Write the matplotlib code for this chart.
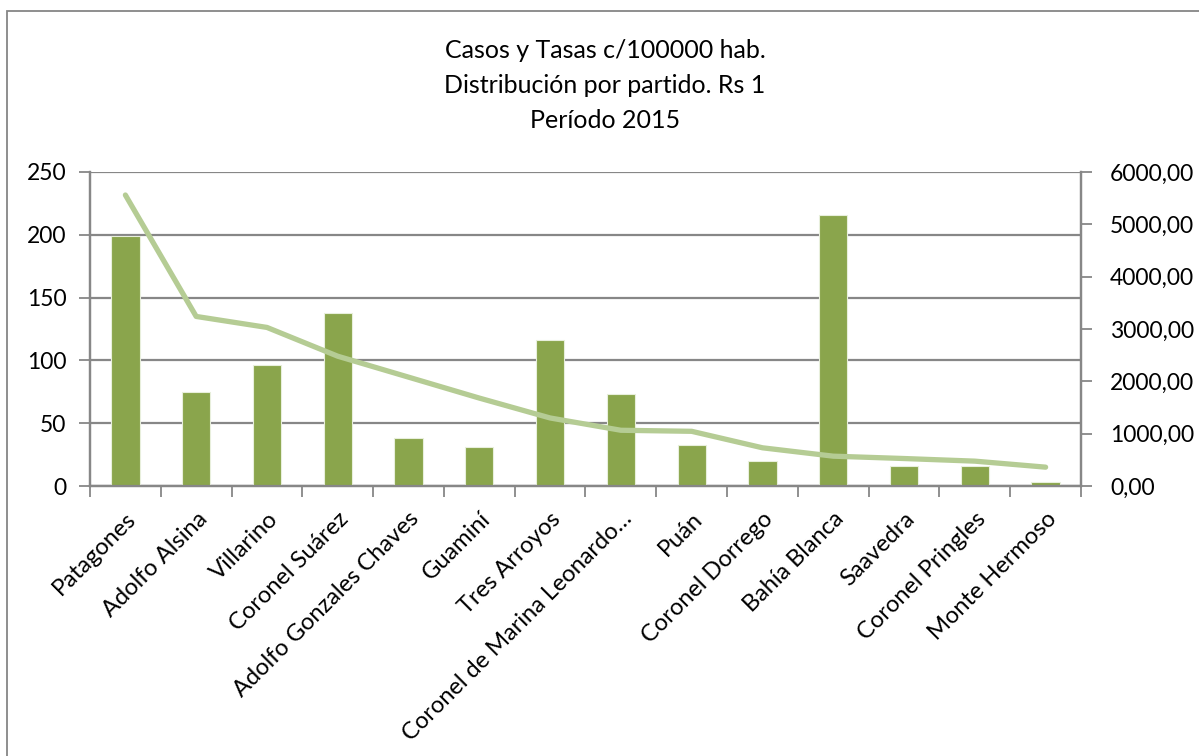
import matplotlib
matplotlib.use("Agg")
import matplotlib.pyplot as plt
from matplotlib.patches import Rectangle
from matplotlib.ticker import FuncFormatter, MultipleLocator, FixedLocator
import numpy as np

categories = ["Patagones", "Adolfo Alsina", "Villarino", "Coronel Suárez",
              "Adolfo Gonzales Chaves", "Guaminí", "Tres Arroyos",
              "Coronel de Marina Leonardo…", "Puán", "Coronel Dorrego",
              "Bahía Blanca", "Saavedra", "Coronel Pringles", "Monte Hermoso"]
casos = [199, 75, 96, 138, 38, 31, 116, 73, 33, 20, 216, 16, 16, 3]
tasas = [5560, 3240, 3030, 2480, 2080, 1680, 1300, 1065, 1045, 730, 570, 525, 475, 360]
title_lines = ["Casos y Tasas c/100000 hab.", "Distribución por partido. Rs 1", "Período 2015"]

plt.rcParams['font.family'] = ['Lato', 'DejaVu Sans']
W, H = 1199, 756
fig = plt.figure(figsize=(W/100, H/100), dpi=100)
fig.patch.set_facecolor('white')

# outer chart border
fig.patches.append(Rectangle((7/W, -0.01), (1199 - 7)/W + 0.01, (H - 11)/H + 0.01,
                             transform=fig.transFigure, fill=False,
                             edgecolor='#868686', linewidth=1.3))

left, right, top, bottom = 90, 1081, 172, 486
ax = fig.add_axes([left/W, 1 - bottom/H, (right-left)/W, (bottom-top)/H])
ax2 = ax.twinx()

grid_c = '#878787'
x = np.arange(len(categories))
ax.bar(x, casos, width=0.4, color='#8AA54C', edgecolor='#E8EFDC', linewidth=0.8, zorder=3)
ax.set_xlim(-0.5, len(categories) - 0.5)
ax.set_ylim(0, 250)
ax.yaxis.set_major_locator(MultipleLocator(50))
ax.grid(axis='y', color=grid_c, linewidth=1.6, zorder=0)
ax.set_axisbelow(True)

ax2.plot(x, tasas, color='#B5CC94', linewidth=3.8, solid_capstyle='round',
         solid_joinstyle='round', zorder=4)
ax2.set_ylim(0, 6000)
ax2.yaxis.set_major_locator(MultipleLocator(1000))
ax2.yaxis.set_major_formatter(FuncFormatter(lambda v, p: f"{v:.2f}".replace('.', ',')))

for a in (ax, ax2):
    a.spines['top'].set_visible(False)
    for s in ('left', 'right', 'bottom'):
        a.spines[s].set_color(grid_c)
        a.spines[s].set_linewidth(1.6)

ax.tick_params(axis='y', direction='out', length=8, width=1.3, color=grid_c,
               labelsize=16.5, pad=9)
ax2.tick_params(axis='y', direction='out', length=8, width=1.3, color=grid_c,
                labelsize=16.5, pad=13)

# x ticks at category boundaries
ax.xaxis.set_major_locator(FixedLocator(np.arange(len(categories) + 1) - 0.5))
ax.xaxis.set_major_formatter(FuncFormatter(lambda v, p: ""))
ax.tick_params(axis='x', direction='out', length=8, width=1.3, color=grid_c)
ax.set_xticks(x, minor=True)
ax.set_xticklabels(categories, minor=True, rotation=45, ha='right', va='top',
                   rotation_mode='anchor', fontsize=17)
ax.tick_params(axis='x', which='minor', length=0, pad=16)

ax.set_zorder(ax2.get_zorder() - 1)
ax.patch.set_visible(True)
ax2.patch.set_visible(False)

for i, t in enumerate(title_lines):
    fig.text(605/W, 1 - (50 + 35.5*i)/H, t, ha='center', va='center', fontsize=18)

fig.savefig('out.png', dpi=100, facecolor='white')
